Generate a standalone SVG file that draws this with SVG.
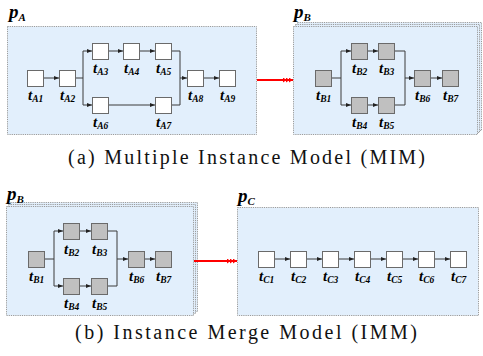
<svg xmlns="http://www.w3.org/2000/svg" width="483" height="356" viewBox="0 0 483 356">
<defs>
<style>
.panel{fill:#e2effc;stroke:#9a9a9a;stroke-width:1;stroke-dasharray:1.2,1}
.nw{fill:#ffffff;stroke:#6a6a6a;stroke-width:1}
.ng{fill:#c0c0c0;stroke:#6a6a6a;stroke-width:1}
.lbl{font-family:"Liberation Serif",serif;font-style:italic;font-weight:bold;font-size:15px;fill:#000}
.sub{font-size:9.5px}
.plbl{font-family:"Liberation Serif",serif;font-style:italic;font-weight:bold;font-size:19px;fill:#000}
.psub{font-size:11px}
.cap{font-family:"Liberation Serif",serif;font-size:20px;fill:#111}
.con{fill:none;stroke:#3a3a3a;stroke-width:1}
.red{fill:none;stroke:#ff0000;stroke-width:2}
</style>
<marker id="ar" viewBox="0 0 5 4" refX="5" refY="2" markerWidth="5" markerHeight="4" markerUnits="userSpaceOnUse" orient="auto">
<path d="M0,0 L5,2 L0,4 Z" fill="#222"/>
</marker>
<marker id="rar" viewBox="0 0 10 5" refX="10" refY="2.5" markerWidth="10" markerHeight="5" markerUnits="userSpaceOnUse" orient="auto">
<path d="M0,0 L3.5,2.5 L0,5 Z M3,0 L6.5,2.5 L3,5 Z M6,0 L9.5,2.5 L6,5 Z" fill="#ff0000"/>
</marker>
</defs>

<!-- panels -->
<g id="panelA">
<rect class="panel" x="7.5" y="26.5" width="249" height="108"/>
<text class="plbl" x="9" y="18">p<tspan class="psub" dy="3">A</tspan></text>
</g>
<g id="panelB1">
<rect class="panel" x="297.5" y="22.5" width="184" height="108"/>
<rect class="panel" x="295.5" y="24.5" width="184" height="108"/>
<rect class="panel" x="293.5" y="26.5" width="184" height="108"/>
<text class="plbl" x="294" y="18">p<tspan class="psub" dy="3">B</tspan></text>
</g>
<g id="panelB2">
<rect class="panel" x="10.5" y="202.5" width="187" height="109"/>
<rect class="panel" x="8.5" y="204.5" width="187" height="109"/>
<rect class="panel" x="6.5" y="206.5" width="187" height="109"/>
<text class="plbl" x="7" y="200">p<tspan class="psub" dy="3">B</tspan></text>
</g>
<g id="panelC">
<rect class="panel" x="237.5" y="207.5" width="241" height="108"/>
<text class="plbl" x="238" y="202">p<tspan class="psub" dy="3">C</tspan></text>
</g>

<!-- connectors -->
<g id="connectors">
<path class="con" d="M44,78 H59" marker-end="url(#ar)"/>
<path class="con" d="M76,78 H83 M83,51 V105"/>
<path class="con" d="M83,51 H92" marker-end="url(#ar)"/>
<path class="con" d="M83,105 H92" marker-end="url(#ar)"/>
<path class="con" d="M108,51 H123" marker-end="url(#ar)"/>
<path class="con" d="M140,51 H155" marker-end="url(#ar)"/>
<path class="con" d="M108,105 H155" marker-end="url(#ar)"/>
<path class="con" d="M172,51 H180 V105 H172"/>
<path class="con" d="M180,78 H187" marker-end="url(#ar)"/>
<path class="con" d="M204,78 H219" marker-end="url(#ar)"/>

<path class="con" d="M332,78 H341 M341,51 V105"/>
<path class="con" d="M341,51 H351" marker-end="url(#ar)"/>
<path class="con" d="M341,105 H351" marker-end="url(#ar)"/>
<path class="con" d="M367,51 H378" marker-end="url(#ar)"/>
<path class="con" d="M367,105 H378" marker-end="url(#ar)"/>
<path class="con" d="M394,51 H405 V105 H394"/>
<path class="con" d="M405,78 H414" marker-end="url(#ar)"/>
<path class="con" d="M431,78 H442" marker-end="url(#ar)"/>

<path class="con" d="M44,259 H54 M54,231 V286"/>
<path class="con" d="M54,231 H63" marker-end="url(#ar)"/>
<path class="con" d="M54,286 H63" marker-end="url(#ar)"/>
<path class="con" d="M80,231 H91" marker-end="url(#ar)"/>
<path class="con" d="M80,286 H91" marker-end="url(#ar)"/>
<path class="con" d="M107,231 H117 V286 H107"/>
<path class="con" d="M117,259 H128" marker-end="url(#ar)"/>
<path class="con" d="M144,259 H155" marker-end="url(#ar)"/>

<path class="con" d="M274,259 H290" marker-end="url(#ar)"/>
<path class="con" d="M306,259 H322" marker-end="url(#ar)"/>
<path class="con" d="M338,259 H354" marker-end="url(#ar)"/>
<path class="con" d="M370,259 H386" marker-end="url(#ar)"/>
<path class="con" d="M402,259 H418" marker-end="url(#ar)"/>
<path class="con" d="M434,259 H450" marker-end="url(#ar)"/>

<path class="red" d="M257,80 H293" marker-end="url(#rar)"/>
<path class="red" d="M194,261 H237" marker-end="url(#rar)"/>
</g>

<!-- nodes panel A -->
<g id="tA1"><rect class="nw" x="27.5" y="70.5" width="16" height="16"/><text class="lbl" x="28" y="100">t<tspan class="sub" dy="2">A1</tspan></text></g>
<g id="tA2"><rect class="nw" x="59.5" y="70.5" width="16" height="16"/><text class="lbl" x="60" y="100">t<tspan class="sub" dy="2">A2</tspan></text></g>
<g id="tA3"><rect class="nw" x="92.5" y="43.5" width="16" height="16"/><text class="lbl" x="93" y="73">t<tspan class="sub" dy="2">A3</tspan></text></g>
<g id="tA4"><rect class="nw" x="123.5" y="43.5" width="16" height="16"/><text class="lbl" x="124" y="73">t<tspan class="sub" dy="2">A4</tspan></text></g>
<g id="tA5"><rect class="nw" x="155.5" y="43.5" width="16" height="16"/><text class="lbl" x="156" y="73">t<tspan class="sub" dy="2">A5</tspan></text></g>
<g id="tA6"><rect class="nw" x="92.5" y="97.5" width="16" height="16"/><text class="lbl" x="93" y="127">t<tspan class="sub" dy="2">A6</tspan></text></g>
<g id="tA7"><rect class="nw" x="155.5" y="97.5" width="16" height="16"/><text class="lbl" x="156" y="127">t<tspan class="sub" dy="2">A7</tspan></text></g>
<g id="tA8"><rect class="nw" x="187.5" y="70.5" width="16" height="16"/><text class="lbl" x="188" y="100">t<tspan class="sub" dy="2">A8</tspan></text></g>
<g id="tA9"><rect class="nw" x="219.5" y="70.5" width="16" height="16"/><text class="lbl" x="220" y="100">t<tspan class="sub" dy="2">A9</tspan></text></g>

<!-- nodes panel B (top) -->
<g id="tB1a"><rect class="ng" x="315.5" y="70.5" width="16" height="16"/><text class="lbl" x="316" y="100">t<tspan class="sub" dy="2">B1</tspan></text></g>
<g id="tB2a"><rect class="ng" x="351.5" y="43.5" width="16" height="16"/><text class="lbl" x="352" y="73">t<tspan class="sub" dy="2">B2</tspan></text></g>
<g id="tB3a"><rect class="ng" x="378.5" y="43.5" width="16" height="16"/><text class="lbl" x="379" y="73">t<tspan class="sub" dy="2">B3</tspan></text></g>
<g id="tB4a"><rect class="ng" x="351.5" y="97.5" width="16" height="16"/><text class="lbl" x="352" y="127">t<tspan class="sub" dy="2">B4</tspan></text></g>
<g id="tB5a"><rect class="ng" x="378.5" y="97.5" width="16" height="16"/><text class="lbl" x="379" y="127">t<tspan class="sub" dy="2">B5</tspan></text></g>
<g id="tB6a"><rect class="ng" x="414.5" y="70.5" width="16" height="16"/><text class="lbl" x="415" y="100">t<tspan class="sub" dy="2">B6</tspan></text></g>
<g id="tB7a"><rect class="ng" x="442.5" y="70.5" width="16" height="16"/><text class="lbl" x="443" y="100">t<tspan class="sub" dy="2">B7</tspan></text></g>

<!-- nodes panel B (bottom) -->
<g id="tB1b"><rect class="ng" x="28.5" y="251.5" width="16" height="16"/><text class="lbl" x="29" y="281">t<tspan class="sub" dy="2">B1</tspan></text></g>
<g id="tB2b"><rect class="ng" x="63.5" y="223.5" width="16" height="16"/><text class="lbl" x="64" y="254">t<tspan class="sub" dy="2">B2</tspan></text></g>
<g id="tB3b"><rect class="ng" x="91.5" y="223.5" width="16" height="16"/><text class="lbl" x="92" y="254">t<tspan class="sub" dy="2">B3</tspan></text></g>
<g id="tB4b"><rect class="ng" x="63.5" y="278.5" width="16" height="16"/><text class="lbl" x="64" y="308">t<tspan class="sub" dy="2">B4</tspan></text></g>
<g id="tB5b"><rect class="ng" x="91.5" y="278.5" width="16" height="16"/><text class="lbl" x="92" y="308">t<tspan class="sub" dy="2">B5</tspan></text></g>
<g id="tB6b"><rect class="ng" x="128.5" y="251.5" width="16" height="16"/><text class="lbl" x="129" y="281">t<tspan class="sub" dy="2">B6</tspan></text></g>
<g id="tB7b"><rect class="ng" x="155.5" y="251.5" width="16" height="16"/><text class="lbl" x="156" y="281">t<tspan class="sub" dy="2">B7</tspan></text></g>

<!-- nodes panel C -->
<g id="tC1"><rect class="nw" x="258.5" y="251.5" width="16" height="16"/><text class="lbl" x="259" y="281">t<tspan class="sub" dy="2">C1</tspan></text></g>
<g id="tC2"><rect class="nw" x="290.5" y="251.5" width="16" height="16"/><text class="lbl" x="291" y="281">t<tspan class="sub" dy="2">C2</tspan></text></g>
<g id="tC3"><rect class="nw" x="322.5" y="251.5" width="16" height="16"/><text class="lbl" x="323" y="281">t<tspan class="sub" dy="2">C3</tspan></text></g>
<g id="tC4"><rect class="nw" x="354.5" y="251.5" width="16" height="16"/><text class="lbl" x="355" y="281">t<tspan class="sub" dy="2">C4</tspan></text></g>
<g id="tC5"><rect class="nw" x="386.5" y="251.5" width="16" height="16"/><text class="lbl" x="387" y="281">t<tspan class="sub" dy="2">C5</tspan></text></g>
<g id="tC6"><rect class="nw" x="418.5" y="251.5" width="16" height="16"/><text class="lbl" x="419" y="281">t<tspan class="sub" dy="2">C6</tspan></text></g>
<g id="tC7"><rect class="nw" x="450.5" y="251.5" width="16" height="16"/><text class="lbl" x="451" y="281">t<tspan class="sub" dy="2">C7</tspan></text></g>

<!-- captions -->
<text class="cap" x="68" y="164" textLength="357" lengthAdjust="spacing">(a) Multiple Instance Model (MIM)</text>
<text class="cap" x="75" y="339" textLength="342" lengthAdjust="spacing">(b) Instance Merge Model (IMM)</text>
</svg>
